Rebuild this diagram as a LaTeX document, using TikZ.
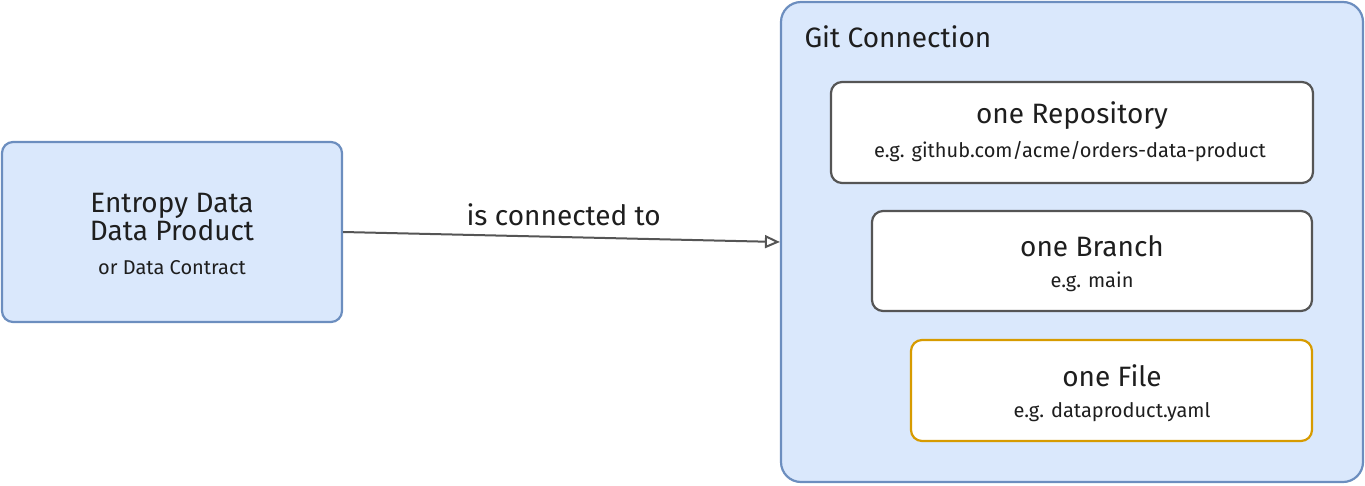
\documentclass[tikz,border=0pt]{standalone}
\usepackage{fontspec}
\setmainfont{Fira Sans}
\usetikzlibrary{arrows.meta,positioning}
\definecolor{bfill}{HTML}{DAE8FC}
\definecolor{bline}{HTML}{6C8EBF}
\definecolor{gline}{HTML}{555555}
\definecolor{oline}{HTML}{D79B00}
\definecolor{txt}{HTML}{1E1E1E}
\tikzset{
  box/.style={draw, line width=2.2pt, rounded corners=11pt, inner sep=0pt},
  bluebox/.style={box, draw=bline, fill=bfill},
  graybox/.style={box, draw=gline, fill=white},
  orangebox/.style={box, draw=oline, fill=white},
  big/.style={font=\fontsize{28}{31}\selectfont, text=txt},
  small/.style={font=\fontsize{20}{23}\selectfont, text=txt},
  conn/.style={draw=gline, line width=2pt, -{Triangle[open,length=15pt,width=13pt,line width=2pt]}}
}
\begin{document}
\begin{tikzpicture}[x=1pt,y=-1pt]
\useasboundingbox (0,0) rectangle (1365,485);
% left box
\node[bluebox, minimum width=340pt, minimum height=180pt] (dp) at (172,232) {};
\node[big, align=center] (dpt) at (172,217) {Entropy Data\\[-3pt]Data Product};
\node[small] (dps) at (172,268) {or Data Contract};
% git container
\node[bluebox, rounded corners=20pt, minimum width=582pt, minimum height=480pt] (git) at (1072,242) {};
\node[big, anchor=west] (gitt) at (801,37) {Git Connection};
% repository
\node[graybox, minimum width=482pt, minimum height=101pt] (repo) at (1072,132.5) {};
\node[big] (repot) at (1072,116) {one Repository};
\node[small] (repos) at (1070,152) {e.g. github.com/acme/orders-data-product};
% branch
\node[graybox, minimum width=440pt, minimum height=100pt] (br) at (1092,261) {};
\node[big] (brt) at (1092,246) {one Branch};
\node[small] (brs) at (1092,282) {e.g. main};
% file
\node[orangebox, minimum width=401pt, minimum height=101pt] (fi) at (1111.5,390.5) {};
\node[big] (fit) at (1112,376) {one File};
\node[small] (fis) at (1112,412) {e.g. dataproduct.yaml};
% connector
\draw[conn] (dp.east) -- (git.west) node[pos=0.505, above=10pt, big, inner sep=0pt] (lbl) {is connected to};
\end{tikzpicture}
\end{document}
